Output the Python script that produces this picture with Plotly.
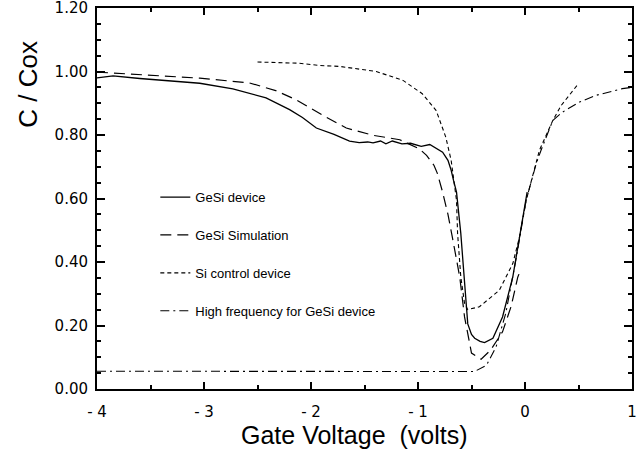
import plotly.graph_objects as go

# ---- data ----
gesi_v = [-4.0, -3.85, -3.6, -3.4, -3.04, -2.73, -2.42, -2.2, -2.08, -1.95, -1.785,
          -1.64, -1.55, -1.47, -1.42, -1.35, -1.30, -1.24, -1.15, -1.07, -0.97, -0.89,
          -0.83, -0.77, -0.72, -0.69, -0.668, -0.64, -0.60, -0.565, -0.535, -0.50,
          -0.47, -0.42, -0.378, -0.30, -0.21, -0.114, 0.005, 0.02]
gesi_c = [0.98, 0.986, 0.978, 0.972, 0.963, 0.945, 0.917, 0.88, 0.855, 0.822, 0.802,
          0.781, 0.776, 0.778, 0.775, 0.781, 0.772, 0.781, 0.772, 0.774, 0.764, 0.770,
          0.757, 0.746, 0.720, 0.689, 0.657, 0.62, 0.49, 0.333, 0.205, 0.172,
          0.160, 0.150, 0.146, 0.160, 0.227, 0.353, 0.589, 0.62]

sim_v = [-4.0, -3.5, -3.04, -2.575, -2.33, -2.14, -1.89, -1.67, -1.42, -1.24, -1.17,
         -0.99, -0.92, -0.85, -0.82, -0.77, -0.72, -0.68, -0.61, -0.565, -0.50,
         -0.41, -0.32, -0.21, -0.13, -0.067, -0.04]
sim_c = [0.998, 0.987, 0.979, 0.964, 0.94, 0.911, 0.862, 0.822, 0.799, 0.789, 0.785,
         0.757, 0.736, 0.704, 0.68, 0.62, 0.55, 0.48, 0.353, 0.227, 0.113,
         0.094, 0.123, 0.18, 0.26, 0.353, 0.375]

si_v = [-2.5, -2.11, -1.92, -1.73, -1.39, -1.14, -0.96, -0.83, -0.74, -0.69, -0.64,
        -0.63, -0.60, -0.565, -0.535, -0.426, -0.24, -0.114, -0.051, 0.011, 0.135,
        0.26, 0.338, 0.50]
si_c = [1.03, 1.026, 1.019, 1.016, 1.0, 0.972, 0.93, 0.877, 0.793, 0.72, 0.594,
        0.49, 0.353, 0.27, 0.25, 0.259, 0.311, 0.395, 0.479, 0.594, 0.752,
        0.846, 0.893, 0.962]

hf_v = [-4.0, -2.0, -0.472, -0.36, -0.27, -0.18, -0.08, 0.01, 0.105, 0.15, 0.26,
        0.35, 0.51, 0.665, 0.91, 1.0]
hf_c = [0.056, 0.056, 0.055, 0.075, 0.133, 0.238, 0.416, 0.594, 0.71, 0.752, 0.846,
        0.872, 0.904, 0.925, 0.946, 0.95]

names = ["GeSi device", "GeSi Simulation", "Si control device",
         "High frequency for GeSi device"]
x_tickvals = [-4, -3, -2, -1, 0, 1]
x_ticktext = ["- 4", "- 3", "- 2", "- 1", "0", "1"]
y_tickvals = [0.0, 0.2, 0.4, 0.6, 0.8, 1.0, 1.2]

FONT = "Liberation Sans, Arial, sans-serif"
TICKFONT = "DejaVu Sans, sans-serif"

fig = go.Figure()
series = [
    (gesi_v, gesi_c, "solid", 1.3),
    (sim_v, sim_c, "11px,6px", 1.2),
    (si_v, si_c, "4px,3px", 1.1),
    (hf_v, hf_c, "9px,4px,2px,4px", 1.1),
]
for i, ((xv, yv, dash, w), nm) in enumerate(zip(series, names)):
    fig.add_trace(go.Scatter(
        x=xv, y=yv, mode="lines", name=nm, legendgroup=f"g{i}",
        line=dict(color="black", width=w, dash=dash),
    ))

fig.update_layout(
    width=644, height=451,
    margin=dict(l=97, r=12, t=8, b=62, autoexpand=False),
    paper_bgcolor="white", plot_bgcolor="white",
    font=dict(family=FONT, color="black"),
    showlegend=True,
    legend=dict(x=0.109, y=0.543, xanchor="left", yanchor="top",
                bgcolor="rgba(0,0,0,0)", borderwidth=0,
                font=dict(size=13, family=FONT, color="black"),
                tracegroupgap=18),
)

fig.update_xaxes(
    range=[-4, 1], tickvals=x_tickvals, ticktext=x_ticktext, automargin=False,
    ticklabeloverflow="allow",
    showgrid=False, zeroline=False,
    showline=True, linecolor="black", linewidth=2, mirror="allticks",
    ticks="inside", ticklen=7, tickwidth=2, tickcolor="black",
    minor=dict(ticks="inside", dtick=0.5, ticklen=4, tickwidth=2, tickcolor="black"),
    tickfont=dict(size=15, family=TICKFONT), ticklabelstandoff=8,
)
fig.update_yaxes(
    range=[0, 1.2], tickvals=y_tickvals, tickformat=".2f", automargin=False,
    ticklabeloverflow="allow",
    showgrid=False, zeroline=False,
    showline=True, linecolor="black", linewidth=2, mirror="allticks",
    ticks="inside", ticklen=8, tickwidth=2, tickcolor="black",
    minor=dict(ticks="inside", dtick=0.05, ticklen=4, tickwidth=2, tickcolor="black"),
    tickfont=dict(size=15, family=TICKFONT), ticklabelstandoff=4,
)

fig.add_annotation(text="C / Cox", xref="paper", yref="paper",
                   x=-0.128, y=0.80, textangle=-90, showarrow=False,
                   xanchor="center", yanchor="middle",
                   font=dict(size=26, family=FONT))
fig.add_annotation(text="Gate Voltage  (volts)", xref="paper", yref="paper",
                   x=0.482, y=-0.12, showarrow=False,
                   xanchor="center", yanchor="middle",
                   font=dict(size=25, family=FONT))

fig.write_html("out.html")
